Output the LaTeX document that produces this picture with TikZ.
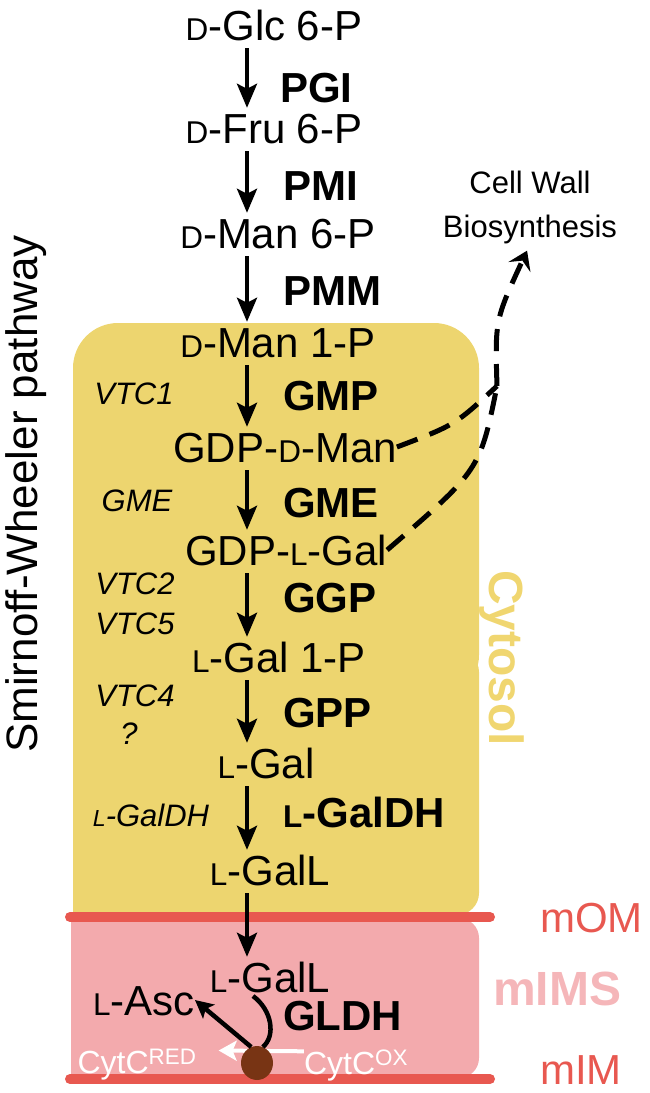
\documentclass[tikz,border=0pt]{standalone}
\usepackage{fontspec}
\setmainfont{Liberation Sans}
\usepackage{tikz}
\usetikzlibrary{arrows.meta,%
                shapes.geometric}

\definecolor{cytoyellow}{RGB}{237,213,111}
\definecolor{imspink}{RGB}{243,170,173}
\definecolor{memred}{RGB}{232,88,80}
\definecolor{imstext}{RGB}{245,182,185}
\definecolor{cytotext}{RGB}{240,214,112}
\definecolor{hembrown}{RGB}{120,52,20}

\newcommand{\sD}{\scalebox{0.75}{D}}
\newcommand{\sL}{\scalebox{0.75}{L}}

\begin{document}
\begin{tikzpicture}[x=1pt,y=-1pt,
  met/.style={inner sep=0pt,text height=30pt,text depth=0pt,font=\fontsize{42}{48}\selectfont},
  enz/.style={met,anchor=west,font=\fontsize{42}{48}\selectfont\bfseries},
  gene/.style={inner sep=0pt,text height=22pt,text depth=0pt,font=\fontsize{31}{36}\selectfont\itshape},
  cyt/.style={inner sep=0pt,text height=23pt,text depth=0pt,white,font=\fontsize{32}{36}\selectfont},
  memlabel/.style={inner sep=0pt,text height=30pt,text depth=0pt,anchor=west,memred,font=\fontsize{42}{48}\selectfont},
  membrane/.style={memred,line width=10pt,line cap=round},
  rxn/.style={-{Stealth[length=24pt,width=20pt,inset=5pt]},line width=4pt,shorten <=8pt,shorten >=5pt},
  cwpath/.style={line width=5pt,dash pattern=on 22pt off 13pt}]
\useasboundingbox (0,0) rectangle (650,1093);
%compartments
\fill[cytoyellow,rounded corners=45pt] (73,323) rectangle (479,700);
\fill[cytoyellow,rounded corners=22pt] (73,650) rectangle (479,915);
\fill[cytoyellow] (73,650) rectangle (200,915);
\fill[imspink,rounded corners=20pt] (71,918) rectangle (479,1078);
\fill[imspink] (71,918) rectangle (200,1078);
\draw[membrane] (70,917) -- (490,917);
\draw[membrane] (70,1079) -- (490,1079);
\node[memlabel] (mom) at (540,917) {mOM};
\node[memlabel,imstext,font=\fontsize{48}{54}\selectfont\bfseries,text height=34pt] (mims) at (493,988) {mIMS};
\node[memlabel] (mim) at (540,1069) {mIM};
\node[inner sep=0pt,text height=34pt,text depth=0pt,rotate=-90,cytotext,font=\fontsize{48}{54}\selectfont\bfseries] (cyto) at (506,658) {Cytosol};
\node[inner sep=0pt,text height=31.5pt,text depth=0pt,rotate=90,font=\fontsize{44}{50}\selectfont] (sw) at (22,494) {Smirnoff-Wheeler pathway};
%metabolites
\coordinate (ax) at (247,0);
\node[met] (glc) at (274,25) {\sD-Glc 6-P};
\node[met] (fru) at (274,128) {\sD-Fru 6-P};
\node[met] (man6) at (278,233) {\sD-Man 6-P};
\node[met] (man1) at (278,342) {\sD-Man 1-P};
\node[met] (gdpman) at (285,447) {GDP-\sD-Man};
\node[met] (gdpgal) at (286,550) {GDP-\sL-Gal};
\node[met] (gal1p) at (279,657) {\sL-Gal 1-P};
\node[met] (gal) at (266,763) {\sL-Gal};
\node[met] (galL) at (270,870) {\sL-GalL};
\node[met] (galL2) at (270,977) {\sL-GalL};
\node[met] (asc) at (144,1000) {\sL-Asc};
\node[inner sep=0pt,align=center,anchor=north,font=\fontsize{31}{44}\selectfont] (cw) at (530,171) {Cell Wall\\Biosynthesis};
%enzymes
\node[enz] (pgi) at (280,87) {PGI};
\node[enz] (pmi) at (283,185) {PMI};
\node[enz] (pmm) at (283,290) {PMM};
\node[enz] (gmp) at (283,395) {GMP};
\node[enz] (gme) at (283,502) {GME};
\node[enz] (ggp) at (283,597) {GGP};
\node[enz] (gpp) at (283,712) {GPP};
\node[enz] (galdh) at (283,812) {\sL-GalDH};
\node[enz] (gldh) at (283,1015) {GLDH};
%genes
\node[gene] (vtc1) at (134,393) {VTC1};
\node[gene] (gmeg) at (137,500) {GME};
\node[gene] (vtc2) at (135,583) {VTC2};
\node[gene] (vtc5) at (135,623) {VTC5};
\node[gene] (vtc4) at (135,695) {VTC4};
\node[gene] (unk) at (129,733) {?};
\node[gene] (galdhg) at (151,815) {\sL-GalDH};
%reactions
\draw[rxn] (glc.south -| ax) -- (fru.north -| ax);
\draw[rxn] (fru.south -| ax) -- (man6.north -| ax);
\draw[rxn] (man6.south -| ax) -- (man1.north -| ax);
\draw[rxn] (man1.south -| ax) -- (gdpman.north -| ax);
\draw[rxn] (gdpman.south -| ax) -- (gdpgal.north -| ax);
\draw[rxn] (gdpgal.south -| ax) -- (gal1p.north -| ax);
\draw[rxn] (gal1p.south -| ax) -- (gal.north -| ax);
\draw[rxn] (gal.south -| ax) -- (galL.north -| ax);
\draw[rxn] (galL.south -| ax) -- (galL2.north -| ax);
%cell wall branch
\coordinate (merge) at (497,386);
\draw[cwpath] (gdpman.east) .. controls (455,425) .. (merge);
\draw[cwpath] (gdpgal.east) .. controls (480,470) .. (merge);
\draw[cwpath,-{Stealth[length=18pt,width=24pt,inset=7pt]},shorten >=7pt] (merge) .. controls (495,320) .. (cw.south);
%GLDH
\node[cyt] (redC) at (137,1062) {CytC\textsuperscript{RED}};
\node[cyt] (oxC) at (356,1063) {CytC\textsuperscript{OX}};
\draw[white,line width=4pt,-{Stealth[length=18pt,width=20pt,inset=4pt]},shorten >=22pt] (oxC.north west) -- (redC.north east);
\coordinate (j1) at (253,996);
\node[ellipse,fill=hembrown,minimum width=32pt,minimum height=34pt,inner sep=0pt] (heme) at (257,1063) {};
\draw[line width=4.5pt] (j1) .. controls (272,1010) and (276,1036) .. (heme.70);
\draw[line width=4.5pt,-{Stealth[length=18pt,width=18pt,inset=4pt]}] (heme.110) -- (asc.east);
\end{tikzpicture}
\end{document}
